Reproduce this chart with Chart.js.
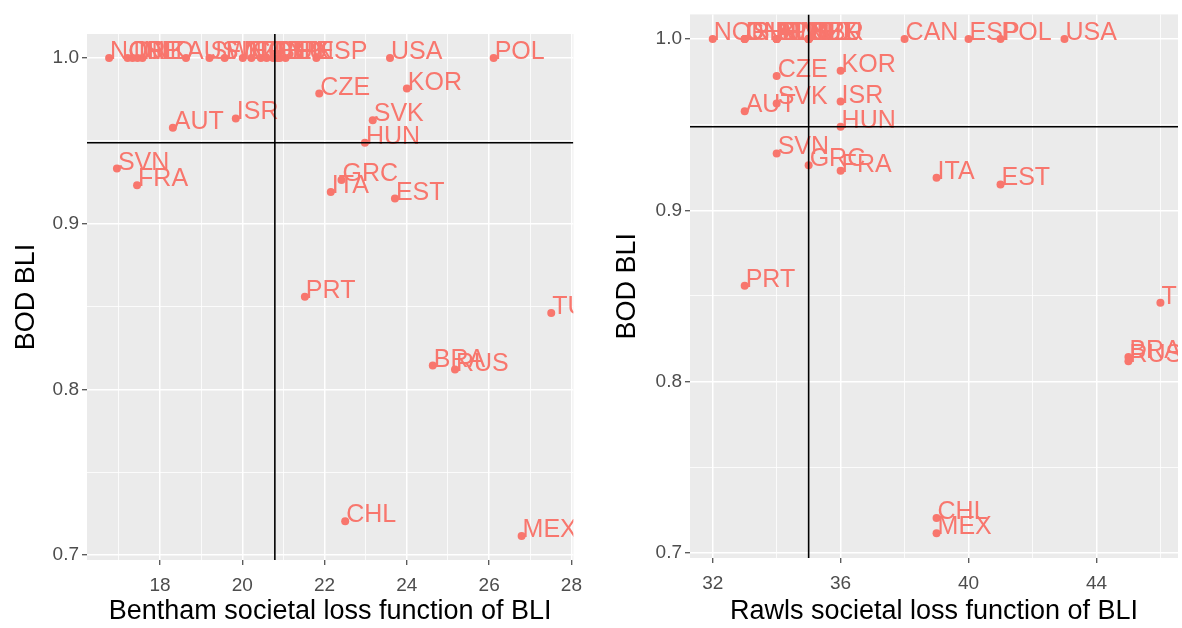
<!DOCTYPE html>
<html>
<head>
<meta charset="utf-8">
<title>BOD BLI vs societal loss</title>
<script src="https://cdn.jsdelivr.net/npm/chart.js@4.4.1/dist/chart.umd.min.js"></script>
<style>
  html, body { margin: 0; padding: 0; background: #fff; }
  #wrap { position: relative; width: 1182px; height: 628px; overflow: hidden; }
  canvas { position: absolute; top: 0; }
  #leftChart { left: 0; }
  #rightChart { left: 591px; }
</style>
</head>
<body>
<div id="wrap">
  <canvas id="leftChart" width="591" height="628"></canvas>
  <canvas id="rightChart" width="591" height="628"></canvas>
</div>
<script>
(function () {
  "use strict";

  // --- data ---
  const countries = [
    "NOR", "CHE", "DNK", "ISL", "NLD", "AUS", "SWE", "FIN", "NZL", "CAN",
    "IRL", "GBR", "DEU", "BEL", "LUX", "JPN", "ESP", "USA", "POL",
    "AUT", "ISR", "CZE", "KOR", "SVK", "HUN", "SVN", "FRA", "GRC", "ITA",
    "EST", "PRT", "TUR", "BRA", "RUS", "CHL", "MEX"
  ];
  const benthamLoss = [
    16.76, 17.21, 17.33, 17.45, 17.57, 18.63, 19.20, 19.57, 20.01, 20.22,
    20.45, 20.59, 20.75, 20.85, 20.91, 21.05, 21.80, 23.59, 26.11,
    18.31, 19.84, 21.87, 24.00, 23.17, 22.98, 16.95, 17.44, 22.41, 22.15,
    23.71, 21.52, 27.51, 24.63, 25.17, 22.50, 26.79
  ];
  const rawlsLoss = [
    32, 33, 33, 33, 34, 34, 34, 34, 35, 38,
    35, 35, 35, 35, 35, 34, 40, 43, 41,
    33, 36, 34, 36, 34, 36, 34, 36, 35, 39,
    41, 33, 46, 45, 45, 39, 39
  ];
  const bodBli = [
    1, 1, 1, 1, 1, 1, 1, 1, 1, 1,
    1, 1, 1, 1, 1, 1, 1, 1, 1,
    0.9579, 0.9635, 0.9785, 0.9815, 0.9624, 0.9488, 0.9332, 0.9231, 0.9263, 0.9191,
    0.9151, 0.8559, 0.8461, 0.8143, 0.8119, 0.7204, 0.7114
  ];

  const benthamTicks = [17, 18, 19, 20, 21, 22, 23, 24, 25, 26, 27, 28];
  const benthamLabels = [18, 20, 22, 24, 26, 28];
  const rawlsTicks = [32, 34, 36, 38, 40, 42, 44, 46];
  const rawlsLabels = [32, 36, 40, 44];
  const bodTicks = [0.7, 0.75, 0.8, 0.85, 0.9, 0.95, 1.0];
  const bodLabels = [0.7, 0.8, 0.9, 1.0];

  // right panel is cut off at the image edge, so its limits are read directly
  const rawlsRange = { min: 31.29, max: 46.55 };

  const benthamMean = 20.79;
  const rawlsMean = 35;
  const bodMean = 0.9488;

  const FONT = "'Liberation Sans', Arial, sans-serif";
  const PINK = "#F8766D";

  // ggplot-ish 5% expansion
  function expand(vals) {
    const lo = Math.min(...vals), hi = Math.max(...vals);
    const pad = (hi - lo) * 0.05;
    return { min: lo - pad, max: hi + pad };
  }

  function isIn(list, v) { return list.some(x => Math.abs(x - v) < 1e-9); }

  const panelBg = {
    id: "panelBg",
    beforeDraw(chart) {
      const a = chart.chartArea, ctx = chart.ctx;
      ctx.save();
      ctx.fillStyle = "#EBEBEB";
      ctx.fillRect(a.left, a.top, a.right - a.left, a.bottom - a.top);
      ctx.restore();
    }
  };

  // text labels (hjust = 0, vjust = 0) + mean lines
  const labelsAndLines = {
    id: "labelsAndLines",
    afterDatasetsDraw(chart, args, opts) {
      const ctx = chart.ctx, a = chart.chartArea;
      const xs = chart.scales.x, ys = chart.scales.y;
      ctx.save();
      ctx.beginPath();
      ctx.rect(a.left, a.top, a.right - a.left, a.bottom - a.top);
      ctx.clip();
      ctx.font = "25px " + FONT;
      ctx.fillStyle = PINK;
      ctx.textAlign = "left";
      ctx.textBaseline = "alphabetic";
      chart.getDatasetMeta(0).data.forEach((pt, i) => {
        ctx.fillText(countries[i], pt.x + 1, pt.y + 1);
      });
      ctx.strokeStyle = "#000";
      ctx.lineWidth = 1.6;
      const vx = xs.getPixelForValue(opts.vline);
      const hy = ys.getPixelForValue(opts.hline);
      ctx.beginPath();
      ctx.moveTo(vx, a.top); ctx.lineTo(vx, a.bottom);
      ctx.moveTo(a.left, hy); ctx.lineTo(a.right, hy);
      ctx.stroke();
      ctx.restore();
    }
  };

  function axisGrid(labels) {
    return {
      color: "#FFFFFF",
      lineWidth: c => (c.tick && isIn(labels, c.tick.value)) ? 1.5 : 0.8,
      drawTicks: true,
      tickLength: 5,
      tickWidth: 1.1,
      tickColor: c => (c.tick && isIn(labels, c.tick.value)) ? "#333333" : "rgba(0,0,0,0)"
    };
  }

  function makePanel(id, cfg) {
    const xr = cfg.xRange || expand(cfg.xs);
    const yr = expand(bodBli);
    return new Chart(document.getElementById(id), {
      type: "scatter",
      data: {
        datasets: [{
          data: cfg.xs.map((x, i) => ({ x, y: bodBli[i] })),
          backgroundColor: PINK,
          borderWidth: 0,
          pointRadius: 4
        }]
      },
      options: {
        responsive: false,
        animation: false,
        events: [],
        layout: { padding: { top: cfg.padTop, right: cfg.padRight, left: 0, bottom: 0 } },
        plugins: {
          legend: { display: false },
          tooltip: { enabled: false },
          labelsAndLines: { vline: cfg.vline, hline: bodMean }
        },
        scales: {
          x: {
            type: "linear",
            min: xr.min, max: xr.max,
            afterBuildTicks: s => { s.ticks = cfg.xTicks.map(v => ({ value: v })); },
            afterFit: s => { s.height = cfg.xAxisH; },
            ticks: {
              autoSkip: false, maxRotation: 0, padding: 9,
              color: "#4D4D4D", font: { family: FONT, size: 19 },
              callback: v => isIn(cfg.xLabels, v) ? String(v) : ""
            },
            grid: axisGrid(cfg.xLabels),
            border: { display: false },
            title: {
              display: true, text: cfg.xTitle, color: "#000",
              font: { family: FONT, size: 27 }, padding: { top: 0, bottom: 0 }
            }
          },
          y: {
            type: "linear",
            min: yr.min, max: yr.max,
            afterBuildTicks: s => { s.ticks = bodTicks.map(v => ({ value: v })); },
            afterFit: s => { s.width = cfg.yAxisW; },
            ticks: {
              autoSkip: false, padding: 3,
              color: "#4D4D4D", font: { family: FONT, size: 19 },
              callback: v => isIn(bodLabels, v) ? v.toFixed(1) : ""
            },
            grid: axisGrid(bodLabels),
            border: { display: false },
            title: {
              display: true, text: "BOD BLI", color: "#000",
              font: { family: FONT, size: 27 }, padding: { top: cfg.yTitlePad, bottom: 0 }
            }
          }
        }
      },
      plugins: [panelBg, labelsAndLines]
    });
  }

  makePanel("leftChart", {
    xs: benthamLoss, xTicks: benthamTicks, xLabels: benthamLabels,
    xTitle: "Bentham societal loss function of BLI", vline: benthamMean,
    padTop: 34, padRight: 13, xAxisH: 68, yAxisW: 87, yTitlePad: 10
  });

  makePanel("rightChart", {
    xs: rawlsLoss, xTicks: rawlsTicks, xLabels: rawlsLabels, xRange: rawlsRange,
    xTitle: "Rawls societal loss function of BLI", vline: rawlsMean,
    padTop: 12, padRight: 0, xAxisH: 70, yAxisW: 99, yTitlePad: 20
  });
})();
</script>
</body>
</html>
